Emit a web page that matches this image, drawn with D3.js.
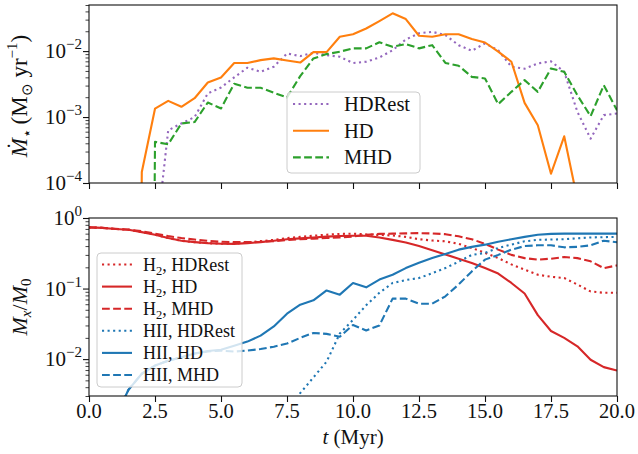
<!DOCTYPE html>
<html><head><meta charset="utf-8">
<script src="https://cdn.jsdelivr.net/npm/d3@7"></script>
</head>
<body style="margin:0;background:#fff">
<svg id="chart" width="638" height="454"></svg>
<script>
// ---------- DATA ----------
const times = [0,0.5,1,1.5,2,2.5,3,3.5,4,4.5,5,5.5,6,6.5,7,7.5,8,8.5,9,9.5,10,10.5,11,11.5,12,12.5,13,13.5,14,14.5,15,15.5,16,16.5,17,17.5,18,18.5,19,19.5,20];

const sfrHDRest = [0,0,0,0,0,1e-5,6.3e-4,8.0e-4,1.0e-3,2.28e-3,2.8e-3,4.0e-3,5.6e-3,4.85e-3,5.8e-3,9.2e-3,8.4e-3,9.4e-3,8.7e-3,8.2e-3,6.6e-3,6.9e-3,8.0e-3,1.03e-2,1.5e-2,1.86e-2,1.96e-2,1.75e-2,1.23e-2,1.01e-2,1.31e-2,1.03e-2,5.8e-3,5.4e-3,6.5e-3,7.0e-3,4.85e-3,1.2e-3,4.7e-4,1.07e-3,1.13e-3];
const sfrHD     = [0,0,0,0,1.47e-4,1.34e-3,1.76e-3,1.43e-3,1.93e-3,3.34e-3,3.98e-3,6.6e-3,6.6e-3,7.3e-3,7.75e-3,7.2e-3,6.7e-3,9.66e-3,9.66e-3,1.65e-2,1.8e-2,2.2e-2,2.85e-2,3.74e-2,3.06e-2,1.71e-2,1.65e-2,1.8e-2,1.8e-2,1.52e-2,1.35e-2,9.8e-3,6.9e-3,1.64e-3,7.5e-4,1.38e-4,5.1e-4,5.6e-5,0,0,0];
const sfrMHD    = [0,0,0,0,0,4.2e-4,3.86e-4,8.0e-4,8.4e-4,1.66e-3,1.35e-3,3.2e-3,2.78e-3,2.78e-3,2.33e-3,1.98e-3,4.17e-3,7.74e-3,9.0e-3,9.8e-3,1.1e-2,1.1e-2,1.36e-2,1.16e-2,1.28e-2,1.1e-2,1.23e-2,6.6e-3,6.0e-3,4.07e-3,3.85e-3,1.57e-3,2.41e-3,3.63e-3,2.41e-3,5.46e-3,4.85e-3,2.14e-3,1.03e-3,3.04e-3,1.27e-3];

const h2HDRest  = [0.736,0.725,0.70,0.68,0.63,0.58,0.52,0.475,0.455,0.44,0.432,0.43,0.45,0.47,0.49,0.52,0.54,0.56,0.58,0.595,0.60,0.585,0.575,0.565,0.54,0.50,0.48,0.467,0.43,0.376,0.32,0.27,0.22,0.185,0.157,0.147,0.141,0.114,0.091,0.087,0.087];
const h2HD      = [0.736,0.725,0.70,0.68,0.63,0.58,0.52,0.475,0.455,0.44,0.432,0.43,0.44,0.455,0.475,0.50,0.515,0.53,0.545,0.555,0.56,0.56,0.53,0.49,0.45,0.40,0.35,0.305,0.265,0.23,0.195,0.163,0.12,0.085,0.042,0.025,0.020,0.0152,0.0098,0.0077,0.0069];
const h2MHD     = [0.736,0.725,0.705,0.685,0.65,0.60,0.555,0.52,0.495,0.475,0.46,0.455,0.455,0.46,0.47,0.485,0.50,0.51,0.52,0.53,0.545,0.58,0.595,0.60,0.605,0.61,0.605,0.59,0.55,0.50,0.43,0.356,0.30,0.27,0.257,0.265,0.28,0.27,0.243,0.195,0.213];
const hiiHDRest = [0,0,0,0,0,0,0,0,0,0,0,0,0,0,0,0.0017,0.0033,0.0055,0.0092,0.023,0.036,0.058,0.087,0.12,0.132,0.141,0.165,0.195,0.24,0.30,0.32,0.376,0.42,0.467,0.49,0.495,0.50,0.515,0.53,0.535,0.54];
const hiiHD     = [0,0,0.0015,0.0037,0.0062,0.0081,0.0095,0.0106,0.012,0.013,0.0136,0.0155,0.0177,0.0215,0.029,0.044,0.059,0.068,0.094,0.082,0.12,0.104,0.134,0.157,0.195,0.232,0.271,0.31,0.356,0.39,0.419,0.46,0.50,0.54,0.58,0.595,0.60,0.60,0.60,0.60,0.60];
const hiiMHD    = [0,0,0.0015,0.0037,0.0062,0.0081,0.0095,0.0106,0.012,0.0128,0.0132,0.0128,0.0132,0.0139,0.015,0.0166,0.020,0.0235,0.0228,0.0208,0.0305,0.0255,0.030,0.072,0.072,0.061,0.061,0.0776,0.114,0.175,0.257,0.30,0.356,0.40,0.41,0.41,0.384,0.39,0.41,0.477,0.452];

const xTicks = [0,2.5,5,7.5,10,12.5,15,17.5,20];
const xTickLabels = ["0.0","2.5","5.0","7.5","10.0","12.5","15.0","17.5","20.0"];
const topYTicks = [1e-4,1e-3,1e-2];
const topYExp = ["−4","−3","−2"];
const botYTicks = [1e-2,1e-1,1];
const botYExp = ["−2","−1","0"];

const topSeries = [
  {name:"HDRest", values:sfrHDRest, color:"#9467bd", dash:"dot"},
  {name:"HD",     values:sfrHD,     color:"#ff7f0e", dash:"solid"},
  {name:"MHD",    values:sfrMHD,    color:"#2ca02c", dash:"dash"}
];
const botSeries = [
  {sp:"H", sub:"2", run:"HDRest", values:h2HDRest, color:"#d62728", dash:"dot"},
  {sp:"H", sub:"2", run:"HD",     values:h2HD,     color:"#d62728", dash:"solid"},
  {sp:"H", sub:"2", run:"MHD",    values:h2MHD,    color:"#d62728", dash:"dash"},
  {sp:"HII", sub:"", run:"HDRest", values:hiiHDRest, color:"#1f77b4", dash:"dot"},
  {sp:"HII", sub:"", run:"HD",     values:hiiHD,     color:"#1f77b4", dash:"solid"},
  {sp:"HII", sub:"", run:"MHD",    values:hiiMHD,    color:"#1f77b4", dash:"dash"}
];

// ---------- LAYOUT ----------
const FONT = "Liberation Serif";
const INK = "#111";
const LW = 2.1;
const dashes = {solid:null, dot:`${(1*LW).toFixed(2)},${(1.65*LW).toFixed(2)}`, dash:`${(3.7*LW).toFixed(2)},${(1.6*LW).toFixed(2)}`};
const svg = d3.select("#chart");
const X0 = 89, X1 = 617;
const x = d3.scaleLinear().domain([0,20]).range([X0,X1]);
const panels = [
  {y: d3.scaleLog().domain([1e-4,5e-2]).range([183,5]), top:5, bot:183, id:"cTop"},
  {y: d3.scaleLog().domain([3e-3,1]).range([396,218]), top:218, bot:396, id:"cBot"}
];
function txt(g){ return g.append("text").attr("font-family",FONT).attr("fill",INK); }

const defs = svg.append("defs");
panels.forEach(p=>{
  defs.append("clipPath").attr("id",p.id).append("rect")
    .attr("x",X0).attr("y",p.top).attr("width",X1-X0).attr("height",p.bot-p.top);
});

function drawLines(p, series){
  const line = d3.line().x((d,i)=>x(times[i])).y(d=>p.y(Math.max(d,1e-30)));
  const g = svg.append("g").attr("clip-path",`url(#${p.id})`);
  series.forEach(s=>{
    g.append("path").attr("d",line(s.values)).attr("fill","none")
      .attr("stroke",s.color).attr("stroke-width",LW)
      .attr("stroke-dasharray",dashes[s.dash]).attr("stroke-linejoin","round");
  });
}
drawLines(panels[0], topSeries);
drawLines(panels[1], botSeries);

function minorTicks(domain){
  const out=[];
  const lo=Math.floor(Math.log10(domain[0])), hi=Math.ceil(Math.log10(domain[1]));
  for(let e=lo;e<hi;e++) for(let m=2;m<=9;m++){const v=m*Math.pow(10,e); if(v>=domain[0]&&v<=domain[1]) out.push(v);}
  return out;
}

panels.forEach((p,pi)=>{
  const ax = svg.append("g").attr("transform",`translate(0,${p.bot})`)
    .call(d3.axisBottom(x).tickValues(xTicks).tickSize(6).tickSizeOuter(0).tickFormat(""));
  ax.select(".domain").remove();
  ax.selectAll("line").attr("stroke",INK).attr("stroke-width",1.1);
  const ay = svg.append("g").attr("transform",`translate(${X0},0)`)
    .call(d3.axisLeft(p.y).tickValues(pi===0?topYTicks:botYTicks).tickSize(6).tickSizeOuter(0).tickFormat(""));
  ay.select(".domain").remove();
  ay.selectAll("line").attr("stroke",INK).attr("stroke-width",1.1);
  const aym = svg.append("g").attr("transform",`translate(${X0},0)`)
    .call(d3.axisLeft(p.y).tickValues(minorTicks(p.y.domain())).tickSize(3.5).tickSizeOuter(0).tickFormat(""));
  aym.select(".domain").remove();
  aym.selectAll("line").attr("stroke",INK).attr("stroke-width",0.8);
  const vals = pi===0?topYTicks:botYTicks, exps = pi===0?topYExp:botYExp;
  vals.forEach((v,i)=>{
    const t = txt(svg).attr("x",82).attr("y",p.y(v)+7).attr("text-anchor","end").attr("font-size",21);
    t.append("tspan").text("10");
    t.append("tspan").attr("font-size",15).attr("dy",-9).text(exps[i]);
  });
  svg.append("rect").attr("x",X0).attr("y",p.top).attr("width",X1-X0).attr("height",p.bot-p.top)
    .attr("fill","none").attr("stroke",INK).attr("stroke-width",1.1);
});

xTicks.forEach((v,i)=>{
  txt(svg).attr("x",x(v)).attr("y",418).attr("text-anchor","middle").attr("font-size",20.5).text(xTickLabels[i]);
});
{
  const t = txt(svg).attr("x",x(10)).attr("y",444).attr("text-anchor","middle").attr("font-size",21);
  t.append("tspan").attr("font-style","italic").text("t");
  t.append("tspan").text(" (Myr)");
}
{
  const t = txt(svg).attr("transform","translate(27,96) rotate(-90)").attr("text-anchor","middle").attr("font-size",23);
  t.append("tspan").attr("font-style","italic").text("Ṁ");
  t.append("tspan").attr("font-size",15).attr("dy",5).text("⋆");
  t.append("tspan").attr("dy",-5).text("\u2009(M");
  t.append("tspan").attr("font-size",15).attr("dy",5).text("⊙");
  t.append("tspan").attr("dy",-5).text(" yr");
  t.append("tspan").attr("font-size",15).attr("dy",-10).text("−1");
  t.append("tspan").attr("dy",10).text(")");
}
{
  const t = txt(svg).attr("transform","translate(27,307) rotate(-90)").attr("text-anchor","middle").attr("font-size",22);
  t.append("tspan").attr("font-style","italic").text("M");
  t.append("tspan").attr("font-style","italic").attr("font-size",15).attr("dy",4).text("x");
  t.append("tspan").attr("dy",-4).text("/");
  t.append("tspan").attr("font-style","italic").text("M");
  t.append("tspan").attr("font-size",15).attr("dy",4).text("0");
}

function legendBox(x0,y0,w,h){
  svg.append("rect").attr("x",x0).attr("y",y0).attr("width",w).attr("height",h).attr("rx",4)
    .attr("fill","#fff").attr("fill-opacity",0.8).attr("stroke","#ccc").attr("stroke-width",1);
}
legendBox(287,92,133,81);
topSeries.forEach((s,i)=>{
  const yy = 104 + i*26.7;
  svg.append("line").attr("x1",293).attr("x2",329).attr("y1",yy).attr("y2",yy)
    .attr("stroke",s.color).attr("stroke-width",LW).attr("stroke-dasharray",dashes[s.dash]);
  txt(svg).attr("x",344).attr("y",yy+7).attr("font-size",20.5).text(s.name);
});
legendBox(97,253,145,134);
botSeries.forEach((s,i)=>{
  const yy = 264.5 + i*22.1;
  svg.append("line").attr("x1",102).attr("x2",132).attr("y1",yy).attr("y2",yy)
    .attr("stroke",s.color).attr("stroke-width",LW).attr("stroke-dasharray",dashes[s.dash]);
  const t = txt(svg).attr("x",143).attr("y",yy+6).attr("font-size",18);
  t.append("tspan").text(s.sp);
  if(s.sub){ t.append("tspan").attr("font-size",12.5).attr("dy",4).text(s.sub); t.append("tspan").attr("dy",-4).text(", "+s.run); }
  else t.append("tspan").text(", "+s.run);
});
</script>
</body></html>
